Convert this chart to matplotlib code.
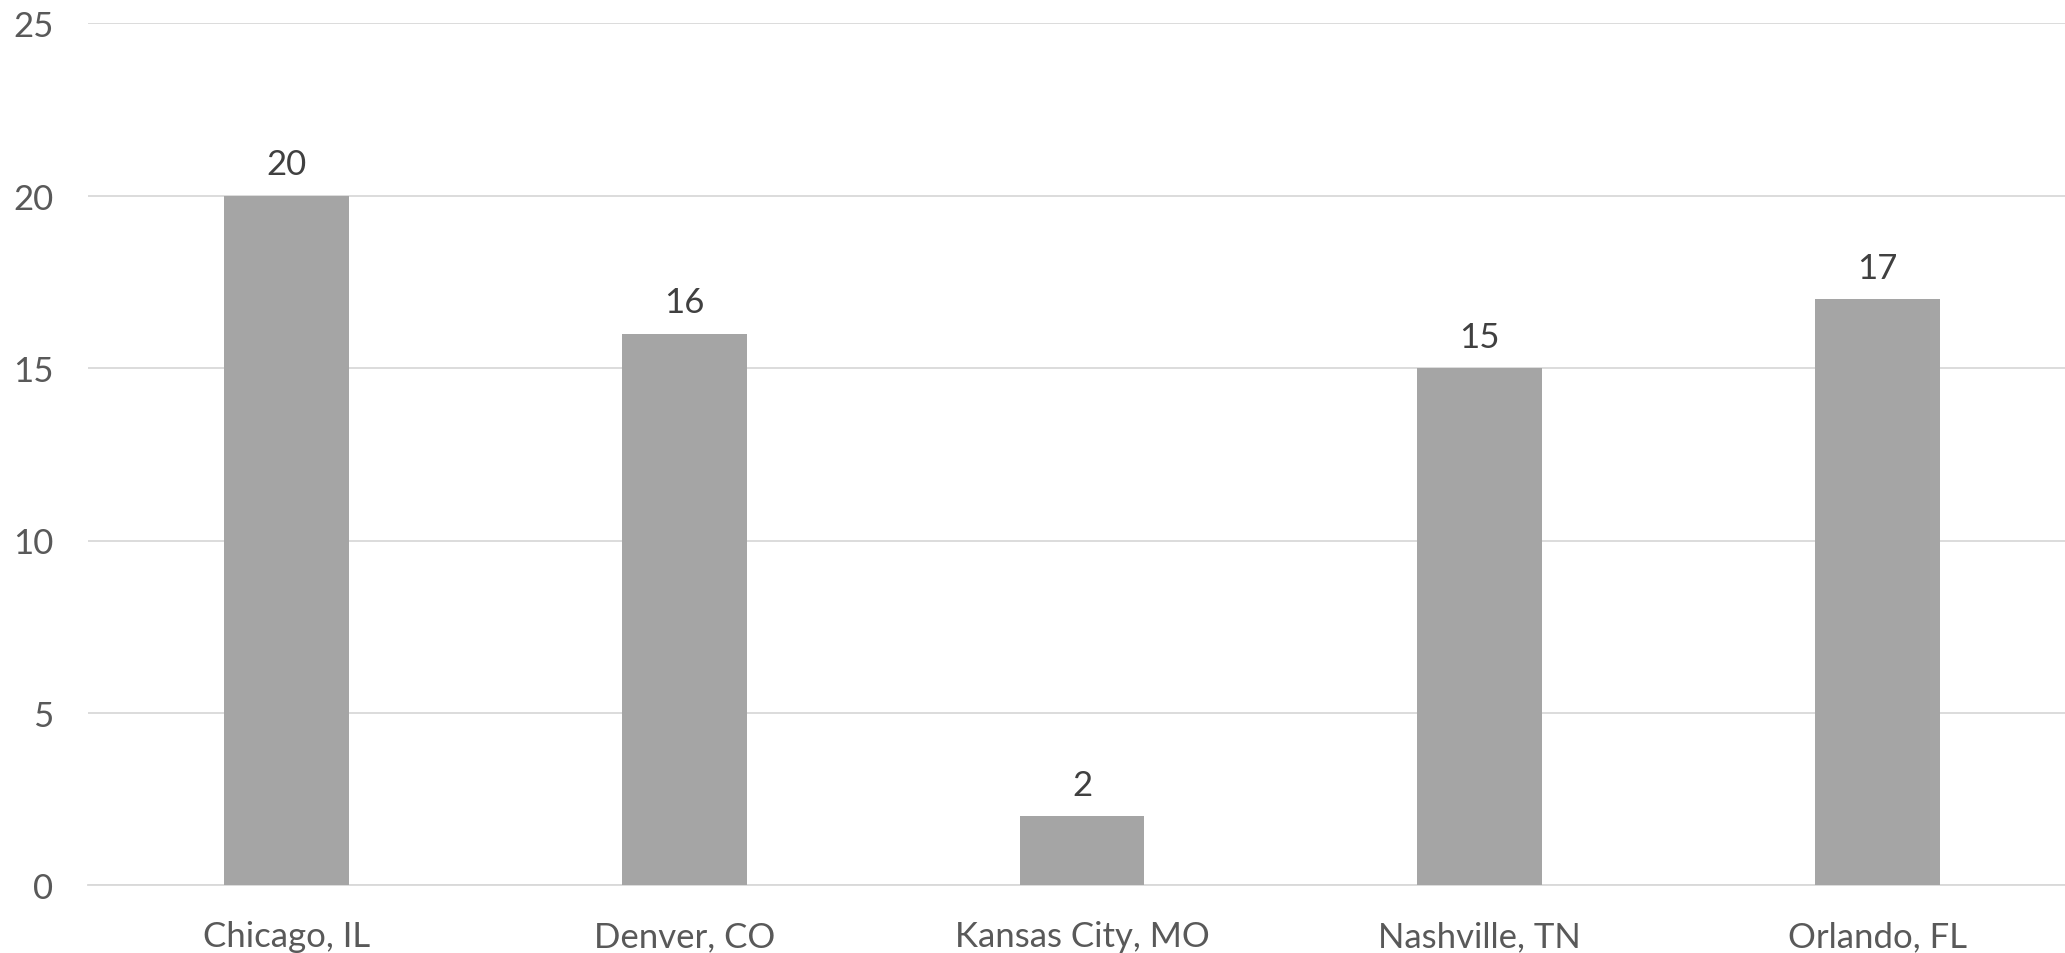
import matplotlib
matplotlib.use("Agg")
import matplotlib.pyplot as plt
import numpy as np

categories = ["Chicago, IL", "Denver, CO", "Kansas City, MO", "Nashville, TN", "Orlando, FL"]
values = [20, 16, 2, 15, 17]
yticks = [0, 5, 10, 15, 20, 25]

plt.rcParams['font.family'] = ['Lato', 'DejaVu Sans']

W, H = 2065, 954
fig = plt.figure(figsize=(W/100, H/100), dpi=100)
left = 88 / W
right = 2076 / W
bottom = 1 - 886.3 / H
top = 1 - 24.3 / H
ax = fig.add_axes([left, bottom, right - left, top - bottom])

x = np.arange(len(categories))
bars = ax.bar(x, values, width=0.3136, color="#A5A5A5", zorder=3)
for xi, v in zip(x, values):
    ax.annotate(str(v), (xi, v), xytext=(0, 11), textcoords="offset points",
                ha="center", va="bottom", fontsize=25, color="#404040")

ax.set_xlim(-0.5, len(categories) - 0.5)
ax.set_ylim(0, 25)
ax.set_yticks(yticks)
ax.set_xticks(x)
ax.set_xticklabels(categories)
ax.tick_params(axis="y", length=0, pad=25, labelsize=25, labelcolor="#595959")
ax.tick_params(axis="x", length=0, pad=25, labelsize=25, labelcolor="#595959")
ax.yaxis.grid(True, color="#D9D9D9", linewidth=1.3, zorder=0)
ax.set_axisbelow(True)
for s in ["top", "right", "left"]:
    ax.spines[s].set_visible(False)
ax.spines["bottom"].set_color("#D9D9D9")
ax.spines["bottom"].set_linewidth(1.3)

fig.savefig("out.png", dpi=100)
